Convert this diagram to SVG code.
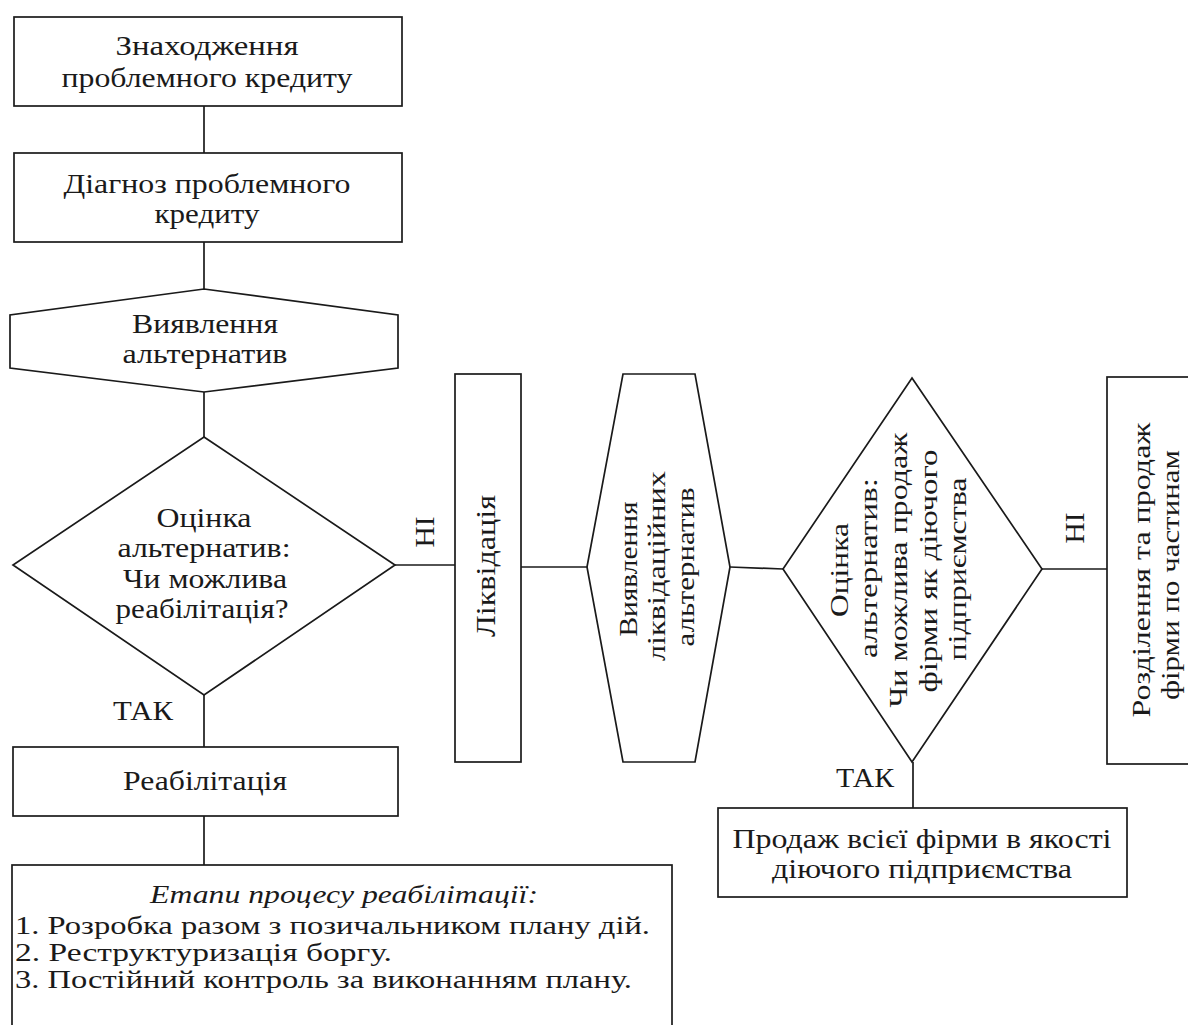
<svg xmlns="http://www.w3.org/2000/svg" width="1188" height="1025" viewBox="0 0 1188 1025">
<style>
.s{fill:#fff;stroke:#1a1a1a;stroke-width:1.7}
.c{stroke:#1a1a1a;stroke-width:1.7;fill:none}
text{font-family:"Liberation Serif","Times New Roman",serif;font-size:27px;fill:#1a1a1a}
.m{text-anchor:middle}
.r{font-size:26px}
.l{font-size:25px}
.i{font-style:italic;font-size:26px}
</style>
<rect width="1188" height="1025" fill="#fff"/>
<g id="connectors">
<line class="c" x1="204" y1="106" x2="204" y2="153"/>
<line class="c" x1="204" y1="242" x2="204" y2="289"/>
<line class="c" x1="204" y1="392" x2="204" y2="437"/>
<line class="c" x1="395" y1="565" x2="455" y2="565"/>
<line class="c" x1="204" y1="695" x2="204" y2="747"/>
<line class="c" x1="204" y1="816" x2="204" y2="865"/>
<line class="c" x1="521" y1="567" x2="587" y2="567"/>
<line class="c" x1="730" y1="567" x2="783" y2="569"/>
<line class="c" x1="1042" y1="569" x2="1107" y2="569"/>
<line class="c" x1="913" y1="762" x2="913" y2="808"/>
<text class="m" x="143" y="720" textLength="60" lengthAdjust="spacingAndGlyphs">ТАК</text>
<text class="m" transform="rotate(-90)" x="-532" y="434" textLength="31" lengthAdjust="spacingAndGlyphs">НІ</text>
<text class="m" x="865" y="787" textLength="58" lengthAdjust="spacingAndGlyphs">ТАК</text>
<text class="m" transform="rotate(-90)" x="-528" y="1084" textLength="31" lengthAdjust="spacingAndGlyphs">НІ</text>
</g>
<g id="n1">
<rect class="s" x="14" y="17" width="388" height="89"/>
<text class="m" x="207" y="55" textLength="183" lengthAdjust="spacingAndGlyphs">Знаходження</text>
<text class="m" x="207" y="87" textLength="291" lengthAdjust="spacingAndGlyphs">проблемного кредиту</text>
</g>
<g id="n2">
<rect class="s" x="14" y="153" width="388" height="89"/>
<text class="m" x="207" y="193" textLength="287" lengthAdjust="spacingAndGlyphs">Діагноз проблемного</text>
<text class="m" x="207" y="223" textLength="105" lengthAdjust="spacingAndGlyphs">кредиту</text>
</g>
<g id="n3">
<polygon class="s" points="204,289 398,315 398,368 204,392 10,368 10,315"/>
<text class="m" x="205" y="333" textLength="146" lengthAdjust="spacingAndGlyphs">Виявлення</text>
<text class="m" x="205" y="363" textLength="165" lengthAdjust="spacingAndGlyphs">альтернатив</text>
</g>
<g id="n4">
<polygon class="s" points="204,437 395,565 204,695 13,565"/>
<text class="m" x="204" y="527" textLength="95" lengthAdjust="spacingAndGlyphs">Оцінка</text>
<text class="m" x="204" y="557" textLength="173" lengthAdjust="spacingAndGlyphs">альтернатив:</text>
<text class="m" x="205" y="588" textLength="164" lengthAdjust="spacingAndGlyphs">Чи можлива</text>
<text class="m" x="202" y="618" textLength="173" lengthAdjust="spacingAndGlyphs">реабілітація?</text>
</g>
<g id="n5">
<rect class="s" x="13" y="747" width="385" height="69"/>
<text class="m" x="205" y="790" textLength="164" lengthAdjust="spacingAndGlyphs">Реабілітація</text>
</g>
<g id="n6">
<rect class="s" x="12" y="865" width="660" height="170"/>
<text class="m i" x="344" y="903" textLength="388" lengthAdjust="spacingAndGlyphs">Етапи процесу реабілітації:</text>
<text class="l" x="15" y="934" textLength="635" lengthAdjust="spacingAndGlyphs">1. Розробка разом з позичальником плану дій.</text>
<text class="l" x="15" y="961" textLength="377" lengthAdjust="spacingAndGlyphs">2. Реструктуризація боргу.</text>
<text class="l" x="15" y="988" textLength="617" lengthAdjust="spacingAndGlyphs">3. Постійний контроль за виконанням плану.</text>
</g>
<g id="n7">
<rect class="s" x="455" y="374" width="66" height="388"/>
<text class="m" transform="rotate(-90)" x="-566" y="495" textLength="142" lengthAdjust="spacingAndGlyphs">Ліквідація</text>
</g>
<g id="n8">
<polygon class="s" points="587,567 623,374 695,374 730,567 695,762 623,762"/>
<text class="m r" transform="rotate(-90)" x="-569" y="637" textLength="135" lengthAdjust="spacingAndGlyphs">Виявлення</text>
<text class="m r" transform="rotate(-90)" x="-566" y="665" textLength="190" lengthAdjust="spacingAndGlyphs">ліквідаційних</text>
<text class="m r" transform="rotate(-90)" x="-567" y="694" textLength="159" lengthAdjust="spacingAndGlyphs">альтернатив</text>
</g>
<g id="n9">
<polygon class="s" points="912,378 1042,569 912,762 783,569"/>
<text class="m r" transform="rotate(-90)" x="-570" y="848" textLength="94" lengthAdjust="spacingAndGlyphs">Оцінка</text>
<text class="m r" transform="rotate(-90)" x="-568" y="877" textLength="180" lengthAdjust="spacingAndGlyphs">альтернатив:</text>
<text class="m r" transform="rotate(-90)" x="-570" y="907" textLength="275" lengthAdjust="spacingAndGlyphs">Чи можлива продаж</text>
<text class="m r" transform="rotate(-90)" x="-571" y="937" textLength="243" lengthAdjust="spacingAndGlyphs">фірми як діючого</text>
<text class="m r" transform="rotate(-90)" x="-569" y="966" textLength="183" lengthAdjust="spacingAndGlyphs">підприємства</text>
</g>
<g id="n10">
<rect class="s" x="1107" y="377" width="100" height="387"/>
<text class="m r" transform="rotate(-90)" x="-570" y="1150" textLength="295" lengthAdjust="spacingAndGlyphs">Розділення та продаж</text>
<text class="m r" transform="rotate(-90)" x="-575" y="1179" textLength="250" lengthAdjust="spacingAndGlyphs">фірми по частинам</text>
</g>
<g id="n11">
<rect class="s" x="718" y="808" width="409" height="89"/>
<text class="m" x="922" y="848" textLength="379" lengthAdjust="spacingAndGlyphs">Продаж всієї фірми в якості</text>
<text class="m" x="922" y="878" textLength="300" lengthAdjust="spacingAndGlyphs">діючого підприємства</text>
</g>
</svg>
